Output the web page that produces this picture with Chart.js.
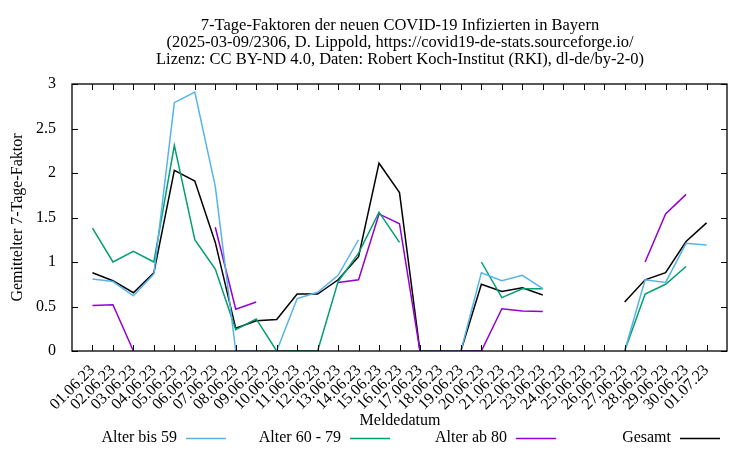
<!DOCTYPE html>
<html>
<head>
<meta charset="utf-8">
<script src="https://cdn.jsdelivr.net/npm/chart.js@4"></script>
<style>
  body { margin: 0; background: #fff; }
  canvas { display: block; }
</style>
</head>
<body>
<canvas id="chart" width="750" height="450"></canvas>
<script>
// Meldedatum labels
const dates = [
  "01.06.23", "02.06.23", "03.06.23", "04.06.23", "05.06.23", "06.06.23", "07.06.23", "08.06.23",
  "09.06.23", "10.06.23", "11.06.23", "12.06.23", "13.06.23", "14.06.23", "15.06.23", "16.06.23",
  "17.06.23", "18.06.23", "19.06.23", "20.06.23", "21.06.23", "22.06.23", "23.06.23", "24.06.23",
  "25.06.23", "26.06.23", "27.06.23", "28.06.23", "29.06.23", "30.06.23", "01.07.23"
];

// 7-Tage-Faktoren, null = no value
const bis59 = [0.81, 0.78, 0.62, 0.865, 2.79, 2.91, 1.85, 0, 0, 0, 0.59, 0.66, 0.85, 1.25, null, null,
  0, 0, 0, 0.88, 0.79, 0.85, 0.70, null, null, null, 0, 0.80, 0.77, 1.21, 1.19];
const alter60_79 = [1.38, 1.00, 1.12, 1.00, 2.31, 1.25, 0.92, 0.24, 0.36, 0, 0, 0, 0.78, 1.10, 1.56, 1.22,
  null, null, null, 1.00, 0.60, 0.70, 0.70, null, null, null, 0, 0.64, 0.75, 0.95, null];
const ab80 = [0.51, 0.52, 0, null, null, null, 1.39, 0.47, 0.55, null, null, null, 0.77, 0.80, 1.54, 1.43,
  0, 0, 0, 0, 0.475, 0.45, 0.445, null, null, null, null, 1.00, 1.54, 1.76, null];
const gesamt = [0.88, 0.79, 0.655, 0.88, 2.03, 1.91, 1.22, 0.255, 0.34, 0.355, 0.64, 0.64, 0.80, 1.06, 2.11, 1.78,
  0, 0, 0, 0.75, 0.67, 0.71, 0.63, null, null, null, 0.55, 0.80, 0.88, 1.23, 1.44];

const yTicks = [0, 0.5, 1, 1.5, 2, 2.5, 3];

const titleLines = [
  "7-Tage-Faktoren der neuen COVID-19 Infizierten in Bayern",
  "(2025-03-09/2306, D. Lippold, https://covid19-de-stats.sourceforge.io/",
  "Lizenz: CC BY-ND 4.0, Daten: Robert Koch-Institut (RKI), dl-de/by-2-0)"
];

const FONT = "'Liberation Serif', 'DejaVu Serif', serif";

function toPoints(arr) {
  return arr.map((v, i) => ({ x: i, y: v }));
}

// titles, inward ticks, border and gnuplot style key
const decorPlugin = {
  id: "decor",
  afterDraw(chart) {
    const ctx = chart.ctx;
    const a = chart.chartArea;
    const xs = chart.scales.x;
    const ys = chart.scales.y;
    ctx.save();

    ctx.strokeStyle = "#000";
    ctx.lineWidth = 1;
    ctx.beginPath();
    dates.forEach((d, i) => {
      const px = Math.round(xs.getPixelForValue(i)) + 0.5;
      ctx.moveTo(px, a.bottom); ctx.lineTo(px, a.bottom - 6);
      ctx.moveTo(px, a.top); ctx.lineTo(px, a.top + 6);
    });
    yTicks.forEach(t => {
      const py = Math.round(ys.getPixelForValue(t)) + 0.5;
      ctx.moveTo(a.left, py); ctx.lineTo(a.left + 6, py);
      ctx.moveTo(a.right, py); ctx.lineTo(a.right - 6, py);
    });
    ctx.stroke();
    ctx.lineWidth = 1.3;
    ctx.strokeRect(a.left, a.top, a.right - a.left, a.bottom - a.top);

    ctx.fillStyle = "#000";
    ctx.font = "16.5px " + FONT;
    ctx.textAlign = "center";
    ctx.textBaseline = "middle";
    titleLines.forEach((l, i) => ctx.fillText(l, 400, 26 + i * 17));

    ctx.font = "16px " + FONT;
    ctx.fillText("Meldedatum", 400, 421);

    ctx.save();
    ctx.translate(18, (a.top + a.bottom) / 2);
    ctx.rotate(-Math.PI / 2);
    ctx.fillText("Gemittelter 7-Tage-Faktor", 0, 0);
    ctx.restore();

    const keyEnds = [226, 390, 556, 720];
    chart.data.datasets.forEach((ds, i) => {
      const x1 = keyEnds[i];
      const x0 = x1 - 40;
      const y = 438;
      ctx.textAlign = "right";
      ctx.fillText(ds.label, x0 - 9, y);
      ctx.strokeStyle = ds.borderColor;
      ctx.lineWidth = 1.5;
      ctx.beginPath();
      ctx.moveTo(x0, y + 0.5); ctx.lineTo(x1, y + 0.5);
      ctx.stroke();
    });
    ctx.restore();
  }
};

function makeSet(label, arr, color) {
  return {
    label: label,
    data: toPoints(arr),
    borderColor: color,
    backgroundColor: color,
    borderWidth: 1.5,
    pointRadius: 0,
    tension: 0,
    spanGaps: false
  };
}

new Chart(document.getElementById("chart"), {
  type: "line",
  data: {
    datasets: [
      makeSet("Alter bis 59", bis59, "#56b4e9"),
      makeSet("Alter 60 - 79", alter60_79, "#009e73"),
      makeSet("Alter ab 80", ab80, "#9400d3"),
      makeSet("Gesamt", gesamt, "#000000")
    ]
  },
  options: {
    responsive: false,
    animation: false,
    layout: { padding: { left: 0, top: 84, right: 23, bottom: 0 } },
    plugins: {
      legend: { display: false },
      title: { display: false },
      tooltip: { enabled: false }
    },
    scales: {
      x: {
        type: "linear",
        min: -1,
        max: 31,
        afterFit(scale) { scale.height = 99; },
        afterBuildTicks(scale) {
          scale.ticks = dates.map((d, i) => ({ value: i }));
        },
        grid: { display: false },
        border: { display: false },
        ticks: {
          autoSkip: false,
          maxRotation: 45,
          minRotation: 45,
          padding: 2,
          color: "#000",
          font: { family: FONT, size: 16 },
          callback: v => dates[v] || ""
        }
      },
      y: {
        min: 0,
        max: 3,
        afterFit(scale) { scale.width = 72; },
        afterBuildTicks(scale) {
          scale.ticks = yTicks.map(v => ({ value: v }));
        },
        grid: { display: false },
        border: { display: false },
        ticks: {
          padding: 8,
          color: "#000",
          font: { family: FONT, size: 16 },
          callback: v => String(v)
        }
      }
    }
  },
  plugins: [decorPlugin]
});
</script>
</body>
</html>
